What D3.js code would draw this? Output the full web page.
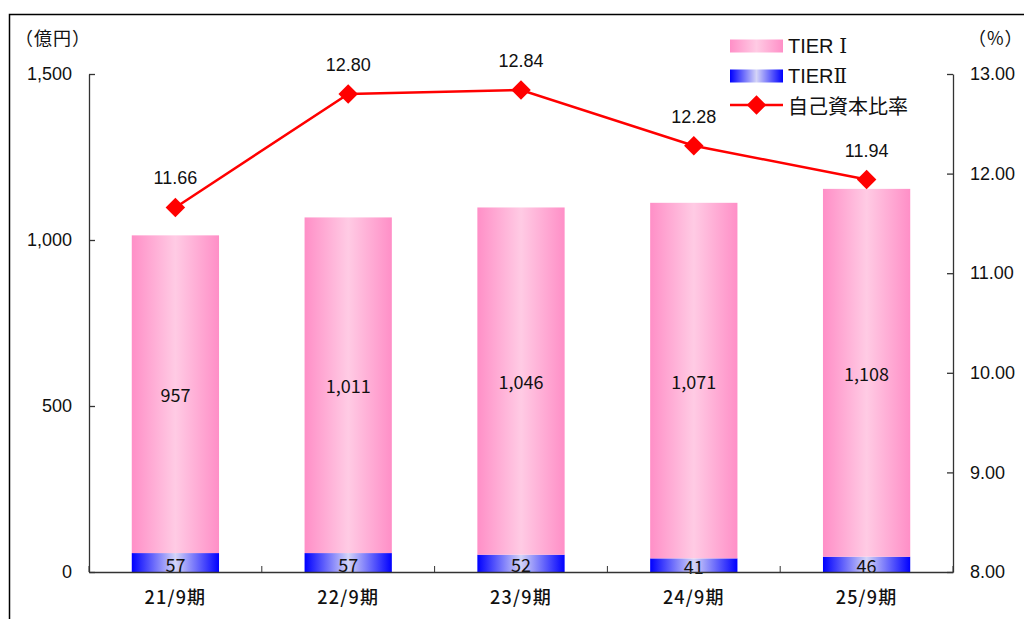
<!DOCTYPE html>
<html>
<head>
<meta charset="utf-8">
<script src="https://cdn.jsdelivr.net/npm/d3@7"></script>
<style>
  html, body { margin: 0; padding: 0; background: #fff; }
  svg { display: block; }
</style>
</head>
<body>
<script>
// Periods, capital components (億円) and capital ratio (%)
const categories = ["21/9期", "22/9期", "23/9期", "24/9期", "25/9期"];
const tier1 = [957, 1011, 1046, 1071, 1108];
const tier2 = [57, 57, 52, 41, 46];
const ratio = [11.66, 12.80, 12.84, 12.28, 11.94];
const leftTicks = [0, 500, 1000, 1500];
const rightTicks = [8, 9, 10, 11, 12, 13];

const W = 1024, H = 619;
const plot = { left: 89, right: 953, top: 74, bottom: 572 };

const svg = d3.select("body").append("svg").attr("width", W).attr("height", H);

const defs = svg.append("defs");
function hGrad(id, edge, mid) {
  const g = defs.append("linearGradient").attr("id", id)
    .attr("x1", "0%").attr("x2", "100%").attr("y1", "0%").attr("y2", "0%");
  g.append("stop").attr("offset", "0%").attr("stop-color", edge);
  g.append("stop").attr("offset", "50%").attr("stop-color", mid);
  g.append("stop").attr("offset", "100%").attr("stop-color", edge);
}
hGrad("gPink", "#ff8fc7", "#ffcbe4");
hGrad("gBlue", "#0000ff", "#d4d4f7");

// outer frame
svg.append("rect").attr("x", 9.5).attr("y", 14.5).attr("width", W + 10).attr("height", H + 10)
  .attr("fill", "none").attr("stroke", "#000").attr("stroke-width", 1.5);

const x = d3.scaleBand().domain(categories).range([plot.left, plot.right]).paddingInner(0).paddingOuter(0);
const y = d3.scaleLinear().domain([0, 1500]).range([plot.bottom, plot.top]);
const y2 = d3.scaleLinear().domain([8, 13]).range([plot.bottom, plot.top]);
const barW = x.bandwidth() * 0.505;

const sansFont = "'Liberation Sans', Arial, sans-serif";
const gothFont = "'Noto Sans CJK JP', sans-serif";

// bars: TIER II at the base, TIER I stacked above
const g = svg.append("g");
categories.forEach((c, i) => {
  const cx = x(c) + x.bandwidth() / 2;
  g.append("rect").attr("x", cx - barW / 2).attr("width", barW)
    .attr("y", y(tier2[i])).attr("height", y(0) - y(tier2[i]))
    .attr("fill", "url(#gBlue)");
  g.append("rect").attr("x", cx - barW / 2).attr("width", barW)
    .attr("y", y(tier2[i] + tier1[i])).attr("height", y(tier2[i]) - y(tier2[i] + tier1[i]))
    .attr("fill", "url(#gPink)");
  g.append("text").attr("x", cx).attr("y", (y(tier2[i]) + y(tier2[i] + tier1[i])) / 2)
    .attr("text-anchor", "middle").attr("dominant-baseline", "central")
    .attr("font-family", gothFont).attr("font-size", 18).attr("fill", "#111")
    .text(d3.format(",")(tier1[i]));
  g.append("text").attr("x", cx).attr("y", (y(0) + y(tier2[i])) / 2 + 1)
    .attr("text-anchor", "middle").attr("dominant-baseline", "central")
    .attr("font-family", gothFont).attr("font-size", 18).attr("fill", "#111")
    .text(tier2[i]);
});

// axes
const axisColor = "#333";
const leftAxis = svg.append("g").attr("transform", `translate(${plot.left},0)`)
  .call(d3.axisLeft(y).tickValues(leftTicks).tickSizeInner(-6).tickSizeOuter(0).tickFormat(d3.format(",")));
leftAxis.selectAll("text").attr("x", -17).attr("font-family", sansFont).attr("font-size", 18).attr("fill", "#111");
const rightAxis = svg.append("g").attr("transform", `translate(${plot.right},0)`)
  .call(d3.axisRight(y2).tickValues(rightTicks).tickSizeInner(-6).tickSizeOuter(0).tickFormat(d3.format(".2f")));
rightAxis.selectAll("text").attr("x", 17).attr("font-family", sansFont).attr("font-size", 18).attr("fill", "#111");
const bottomAxis = svg.append("g").attr("transform", `translate(0,${plot.bottom})`)
  .call(d3.axisBottom(x).tickSize(0).tickPadding(19));
bottomAxis.selectAll("text").attr("font-family", gothFont).attr("font-size", 18).attr("fill", "#111")
  .attr("font-weight", 500).attr("letter-spacing", 1.2);
// category boundary ticks
bottomAxis.selectAll(".bound").data(d3.range(categories.length + 1)).enter().append("line")
  .attr("class", "bound")
  .attr("x1", i => plot.left + i * x.bandwidth()).attr("x2", i => plot.left + i * x.bandwidth())
  .attr("y1", 0).attr("y2", -6).attr("stroke", axisColor);
[leftAxis, rightAxis, bottomAxis].forEach(a => {
  a.selectAll("path.domain").attr("stroke", axisColor).attr("stroke-width", 1.3);
  a.selectAll(".tick line").attr("stroke", axisColor).attr("stroke-width", 1.3);
});

// capital ratio line
const px = (c) => x(c) + x.bandwidth() / 2;
svg.append("path").datum(ratio)
  .attr("d", d3.line().x((d, i) => px(categories[i])).y(d => y2(d)))
  .attr("fill", "none").attr("stroke", "#ff0000").attr("stroke-width", 2.5);
const diamond = d3.symbol().type(d3.symbolSquare).size(190);
ratio.forEach((d, i) => {
  svg.append("path").attr("d", diamond())
    .attr("transform", `translate(${px(categories[i])},${y2(d)}) rotate(45)`)
    .attr("fill", "#ff0000");
  svg.append("text").attr("x", px(categories[i])).attr("y", y2(d) - 29)
    .attr("text-anchor", "middle").attr("dominant-baseline", "central")
    .attr("font-family", sansFont).attr("font-size", 18).attr("fill", "#111")
    .text(d.toFixed(2));
});

// axis titles
svg.append("text").attr("x", 15).attr("y", 37).attr("dominant-baseline", "central")
  .attr("font-family", gothFont).attr("font-size", 18).attr("fill", "#111").attr("letter-spacing", 1)
  .text("（億円）");
svg.append("text").attr("x", 968).attr("y", 37).attr("dominant-baseline", "central")
  .attr("font-family", gothFont).attr("font-size", 18).attr("fill", "#111").attr("letter-spacing", 1)
  .text("（%）");

// legend
const legend = svg.append("g");
const items = [
  { name: "TIER ", numeral: "Ⅰ", type: "pink", y: 46 },
  { name: "TIER", numeral: "Ⅱ", type: "blue", y: 76 },
  { name: "自己資本比率", numeral: "", type: "line", y: 105 }
];
items.forEach(it => {
  if (it.type === "line") {
    legend.append("line").attr("x1", 730).attr("x2", 783).attr("y1", it.y).attr("y2", it.y)
      .attr("stroke", "#ff0000").attr("stroke-width", 2.5);
    legend.append("path").attr("d", diamond()).attr("transform", `translate(756.5,${it.y}) rotate(45)`)
      .attr("fill", "#ff0000");
  } else {
    legend.append("rect").attr("x", 730).attr("y", it.y - 6.5).attr("width", 53).attr("height", 13)
      .attr("fill", it.type === "pink" ? "url(#gPink)" : "url(#gBlue)");
  }
  const t = legend.append("text").attr("x", 788).attr("y", it.y).attr("dominant-baseline", "central")
    .attr("font-size", 20).attr("fill", "#111");
  if (it.type === "line") {
    t.attr("font-family", gothFont).text(it.name);
  } else {
    t.append("tspan").attr("font-family", sansFont).text(it.name);
    t.append("tspan").attr("font-family", "'DejaVu Serif', serif").text(it.numeral);
  }
});
</script>
</body>
</html>
